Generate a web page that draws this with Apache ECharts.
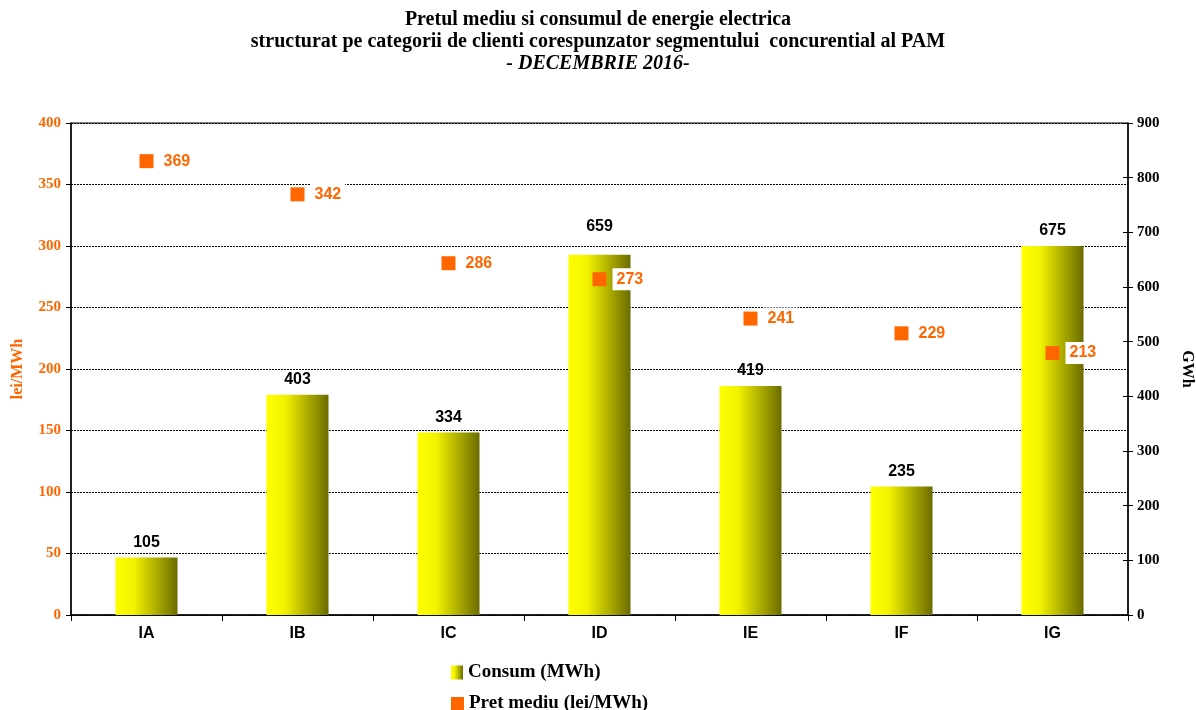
<!DOCTYPE html>
<html>
<head>
<meta charset="utf-8">
<script src="https://cdn.jsdelivr.net/npm/echarts@6/dist/echarts.min.js"></script>
<style>html,body{margin:0;padding:0;background:#fff}#c{width:1196px;height:710px}</style>
</head>
<body>
<div id="c"></div>
<script>
const categories = ['IA', 'IB', 'IC', 'ID', 'IE', 'IF', 'IG'];
const consum = [105, 403, 334, 659, 419, 235, 675];
const pret = [369, 342, 286, 273, 241, 229, 213];
const titleLines = ['Pretul mediu si consumul de energie electrica', 'structurat pe categorii de clienti corespunzator segmentului  concurential al PAM', '- DECEMBRIE 2016-'];

const chart = echarts.init(document.getElementById('c'));
const serif = '"Liberation Serif", "Times New Roman", serif';
const sans = '"Liberation Sans", Arial, sans-serif';
const barGrad = new echarts.graphic.LinearGradient(0, 0, 1, 0, [
  {offset: 0, color: '#ffff00'},
  {offset: 0.3, color: '#f2f200'},
  {offset: 1, color: '#6b6b00'}
]);
const legendText = {fontFamily: serif, fontWeight: 'bold', fontSize: 19, color: '#000'};
chart.setOption({
  animation: false,
  title: [
    {text: titleLines[0] + '\n' + titleLines[1], left: 'center', top: 4, textStyle: {fontFamily: serif, fontWeight: 'bold', fontSize: 20, color: '#000', lineHeight: 22}},
    {text: titleLines[2], left: 'center', top: 49, textStyle: {fontFamily: serif, fontWeight: 'bold', fontStyle: 'italic', fontSize: 20, color: '#000'}}
  ],
  legend: [
    {left: 446, top: 658, itemWidth: 12, itemHeight: 14, itemGap: 3, textStyle: legendText,
     data: [{name: 'Consum (MWh)', icon: 'rect'}]},
    {left: 446, top: 689, itemWidth: 13, itemHeight: 13, itemGap: 3, textStyle: legendText,
     data: [{name: 'Pret mediu (lei/MWh)', icon: 'rect'}]}
  ],
  grid: {left: 71, right: 68, top: 123, bottom: 95, show: true, borderColor: '#000', borderWidth: 1, containLabel: false, outerBoundsMode: 'none'},
  xAxis: {
    type: 'category', data: categories, boundaryGap: true,
    axisLine: {lineStyle: {color: '#000', width: 1.5}},
    axisTick: {show: true, alignWithLabel: false, length: 6, lineStyle: {color: '#000'}},
    axisLabel: {fontFamily: sans, fontWeight: 'bold', fontSize: 16, color: '#000', margin: 11}
  },
  yAxis: [
    {
      type: 'value', min: 0, max: 400, interval: 50, position: 'left',
      name: 'lei/MWh', nameLocation: 'middle', nameRotate: 90, nameGap: 45,
      nameTextStyle: {fontFamily: serif, fontWeight: 'bold', fontSize: 16, color: '#ff6600'},
      axisLine: {show: true, lineStyle: {color: '#000', width: 1.5}},
      axisTick: {show: true, length: 5, lineStyle: {color: '#000'}},
      axisLabel: {fontFamily: serif, fontWeight: 'bold', fontSize: 15, color: '#ff6600', margin: 10},
      splitLine: {show: true, lineStyle: {color: '#000', type: [2, 1], width: 1}}
    },
    {
      type: 'value', min: 0, max: 900, interval: 100, position: 'right',
      name: 'GWh', nameLocation: 'middle', nameRotate: -90, nameGap: 51,
      nameTextStyle: {fontFamily: serif, fontWeight: 'bold', fontSize: 16, color: '#000'},
      axisLine: {show: true, lineStyle: {color: '#000', width: 1.5}},
      axisTick: {show: true, length: 5, lineStyle: {color: '#000'}},
      axisLabel: {fontFamily: serif, fontWeight: 'bold', fontSize: 15, color: '#000', margin: 9},
      splitLine: {show: false}
    },
    {
      type: 'value', min: 0, max: 900, interval: 100, position: 'right',
      axisLine: {show: false},
      axisTick: {show: true, inside: true, length: 5, lineStyle: {color: '#000'}},
      axisLabel: {show: false},
      splitLine: {show: false}
    }
  ],
  series: [
    {
      name: 'Consum (MWh)', type: 'bar', yAxisIndex: 1,
      data: consum.map((v, i) => i === 3 ? {value: v, label: {distance: 20}} : v),
      barWidth: 62,
      itemStyle: {color: barGrad},
      label: {show: true, position: 'top', distance: 7, fontFamily: sans, fontWeight: 'bold', fontSize: 16, color: '#000'}
    },
    {
      name: 'Pret mediu (lei/MWh)', type: 'scatter', yAxisIndex: 0, data: pret,
      symbol: 'rect', symbolSize: 14, itemStyle: {color: '#ff6600', opacity: 1},
      label: {show: true, position: 'right', distance: 6, fontFamily: sans, fontWeight: 'bold', fontSize: 16, color: '#ff6600', opacity: 1, backgroundColor: '#fff', padding: [3, 4, 3, 4]},
      z: 5
    }
  ]
});
</script>
</body>
</html>
